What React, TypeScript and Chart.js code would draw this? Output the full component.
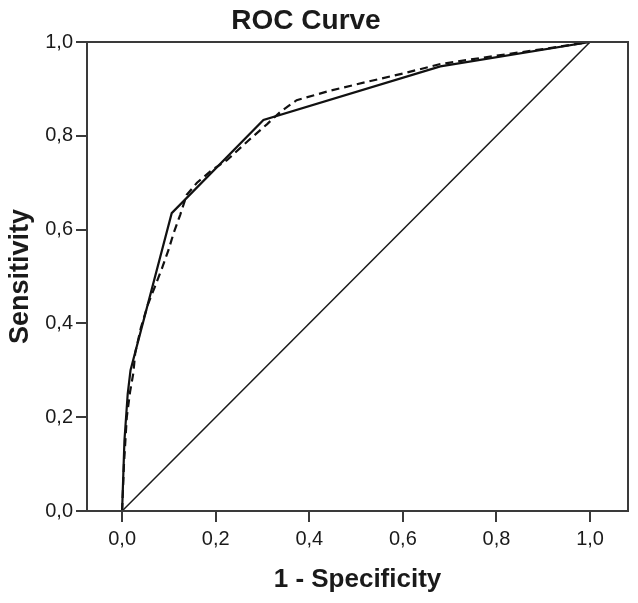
import React, { useEffect, useRef } from "react";
import { Chart, registerables } from "chart.js";

Chart.register(...registerables);

const chartTitle = "ROC Curve";
const xAxisTitle = "1 - Specificity";
const yAxisTitle = "Sensitivity";
const tickValues = [0, 0.2, 0.4, 0.6, 0.8, 1.0];

const solidX = [0, 0.005, 0.012, 0.018, 0.106, 0.302, 0.68, 1];
const solidY = [0, 0.15, 0.25, 0.3, 0.635, 0.834, 0.948, 1];

const dashedX = [0, 0.004, 0.01, 0.017, 0.024, 0.028, 0.04, 0.055, 0.07, 0.085, 0.099, 0.11, 0.124, 0.138, 0.16, 0.192, 0.224, 0.27, 0.31, 0.338, 0.373, 0.444, 0.523, 0.601, 0.68, 0.78, 0.9, 1];
const dashedY = [0, 0.1, 0.2, 0.254, 0.294, 0.337, 0.39, 0.44, 0.478, 0.517, 0.556, 0.592, 0.631, 0.674, 0.7, 0.727, 0.748, 0.79, 0.825, 0.851, 0.876, 0.896, 0.915, 0.933, 0.953, 0.968, 0.985, 1];

const refX = [0, 1];
const refY = [0, 1];

const FONT = "'Liberation Sans', Arial, sans-serif";
const TEXT = "#1a1a1a";
const FRAME = "#3a3a3a";

const toPts = (xs: number[], ys: number[]) => xs.map((x, i) => ({ x, y: ys[i] }));
const fmt = (v: number) => v.toFixed(1).replace(".", ",");

export default function App() {
  const ref = useRef<HTMLCanvasElement | null>(null);

  useEffect(() => {
    if (!ref.current) return;
    const framePlugin = {
      id: "frame",
      afterDraw(chart: any) {
        const { ctx, chartArea } = chart;
        ctx.save();
        ctx.strokeStyle = FRAME;
        ctx.lineWidth = 2;
        ctx.strokeRect(chartArea.left, chartArea.top, chartArea.right - chartArea.left, chartArea.bottom - chartArea.top);
        ctx.fillStyle = TEXT;
        ctx.font = `bold 28px ${FONT}`;
        ctx.textAlign = "center";
        ctx.textBaseline = "alphabetic";
        ctx.fillText(chartTitle, 306, 21);
        ctx.restore();
      },
    };

    const chart = new Chart(ref.current, {
      type: "scatter",
      data: {
        datasets: [
          {
            data: toPts(refX, refY),
            showLine: true,
            borderColor: "#1a1a1a",
            borderWidth: 1.5,
            pointRadius: 0,
          },
          {
            data: toPts(solidX, solidY),
            showLine: true,
            borderColor: "#111",
            borderWidth: 2.2,
            pointRadius: 0,
          },
          {
            data: toPts(dashedX, dashedY),
            showLine: true,
            borderColor: "#111",
            borderWidth: 2.2,
            borderDash: [8, 5],
            pointRadius: 0,
          },
        ],
      },
      options: {
        animation: false,
        responsive: false,
        layout: { padding: { top: 34, right: 2, left: 4, bottom: 0 } },
        plugins: { legend: { display: false }, tooltip: { enabled: false }, title: { display: false } },
        scales: {
          x: {
            type: "linear",
            min: -0.075,
            max: 1.081,
            afterBuildTicks: (s: any) => {
              s.ticks = tickValues.map((v) => ({ value: v }));
            },
            afterFit: (s: any) => {
              s.height = 84;
            },
            grid: { display: true, drawOnChartArea: false, drawTicks: true, tickLength: 11, color: FRAME, lineWidth: 2 },
            border: { display: false },
            ticks: { color: TEXT, font: { family: FONT, size: 20 }, padding: 5, callback: (v: any) => fmt(Number(v)), maxRotation: 0 },
            title: { display: true, text: xAxisTitle, color: TEXT, font: { family: FONT, size: 26, weight: "bold" }, padding: { top: 12, bottom: 0 } },
          },
          y: {
            type: "linear",
            min: 0,
            max: 1,
            afterBuildTicks: (s: any) => {
              s.ticks = tickValues.map((v) => ({ value: v }));
            },
            afterFit: (s: any) => {
              s.width = 83;
            },
            grid: { display: true, drawOnChartArea: false, drawTicks: true, tickLength: 11, color: FRAME, lineWidth: 2 },
            border: { display: false },
            ticks: { color: TEXT, font: { family: FONT, size: 20 }, padding: 3, callback: (v: any) => fmt(Number(v)) },
            title: { display: true, text: yAxisTitle, color: TEXT, font: { family: FONT, size: 27, weight: "bold" }, padding: { top: 0, bottom: 4 } },
          },
        },
      },
      plugins: [framePlugin],
    } as any);
    return () => chart.destroy();
  }, []);

  return <canvas ref={ref} width={630} height={587} style={{ display: "block", marginLeft: -8 }} />;
}
